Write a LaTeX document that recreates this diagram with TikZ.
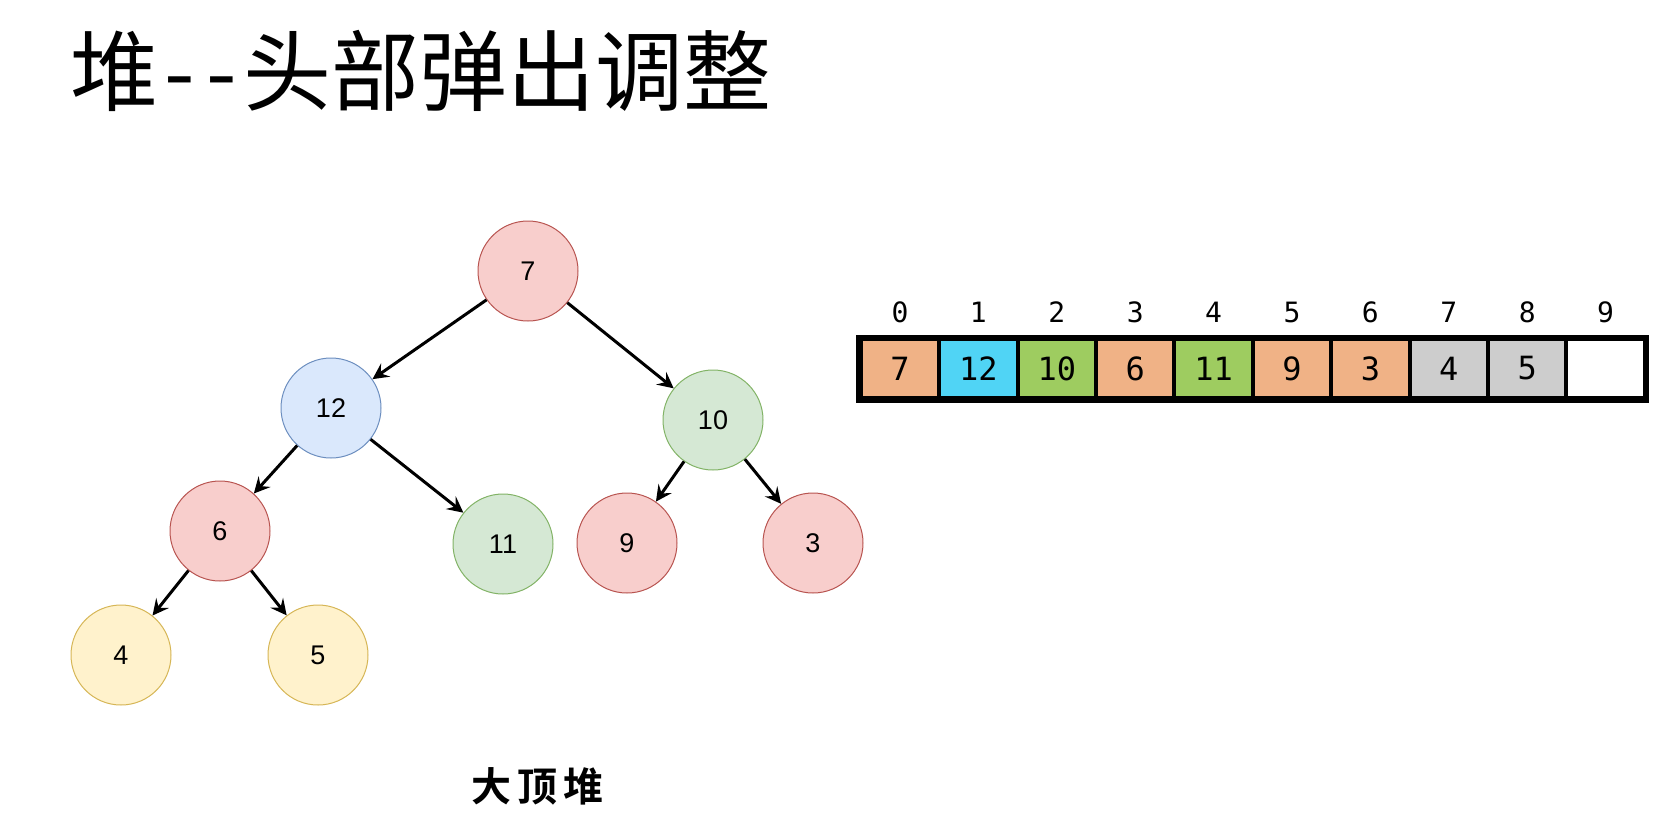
\documentclass[tikz,border=0pt]{standalone}
\usepackage{fontspec}
\setmainfont{Liberation Sans}
\newfontfamily\cjk{Noto Sans CJK SC}
\newfontfamily\cjkb{Noto Sans CJK SC Bold}
\newfontfamily\arrmono{DejaVu Sans Mono}
\usetikzlibrary{arrows.meta}

\definecolor{hredfill}{HTML}{F8CECC}
\definecolor{hredline}{HTML}{B85450}
\definecolor{hbluefill}{HTML}{DAE8FC}
\definecolor{hblueline}{HTML}{6C8EBF}
\definecolor{hgreenfill}{HTML}{D5E8D4}
\definecolor{hgreenline}{HTML}{82B366}
\definecolor{hyellowfill}{HTML}{FFF2CC}
\definecolor{hyellowline}{HTML}{D6B656}
\definecolor{corange}{RGB}{240,178,134}
\definecolor{ccyan}{RGB}{80,212,245}
\definecolor{cgreen}{RGB}{158,204,96}
\definecolor{cgray}{RGB}{205,205,205}

\begin{document}
\begin{tikzpicture}[x=0.5pt, y=-0.5pt, >={Stealth[length=8pt, width=8pt, inset=3pt]},
		hnode/.style={circle, minimum size=50pt, inner sep=0pt, line width=0.5pt, font=\fontsize{13.5}{15}\selectfont},
		hred/.style={hnode, draw=hredline, fill=hredfill},
		hblue/.style={hnode, draw=hblueline, fill=hbluefill},
		hgreen/.style={hnode, draw=hgreenline, fill=hgreenfill},
		hyellow/.style={hnode, draw=hyellowline, fill=hyellowfill},
		edge/.style={->, line width=1.5pt},
		cell/.style={draw, line width=2pt, minimum width=39.2pt, minimum height=29.5pt, inner sep=0pt, font=\arrmono\fontsize{16}{18}\selectfont},
		idx/.style={inner sep=0pt, font=\arrmono\fontsize{14}{16}\selectfont}]
		\useasboundingbox (0,0) rectangle (1671,820);
		% title
		\node[anchor=base west, inner sep=0pt, font=\cjk\fontsize{44}{48}\selectfont] (title) at (70,104) {堆\hspace{3pt}-\hspace{6pt}-\hspace{3pt}头部弹出调整};
		% heap
		\node[hred] (n7) at (528,271) {7};
		\node[hblue] (n12) at (331,408) {12};
		\node[hgreen] (n10) at (713,420) {10};
		\node[hred] (n6) at (220,531) {6};
		\node[hgreen] (n11) at (503,544) {11};
		\node[hred] (n9) at (627,543) {9};
		\node[hred] (n3) at (813,543) {3};
		\node[hyellow] (n4) at (121,655) {4};
		\node[hyellow] (n5) at (318,655) {5};
		\foreach \p/\c in {n7/n12, n7/n10, n12/n6, n12/n11, n10/n9, n10/n3, n6/n4, n6/n5}
			\draw[edge] (\p) -- (\c);
		\node[anchor=base, inner sep=0pt, font=\cjkb\fontsize{20}{22}\selectfont] (cap) at (537,801) {大\hspace{3pt}顶\hspace{3pt}堆};
		% array
		\foreach \i/\v/\col in {0/7/corange, 1/12/ccyan, 2/10/cgreen, 3/6/corange, 4/11/cgreen, 5/9/corange, 6/3/corange, 7/4/cgray, 8/5/cgray, 9//white} {
			\node[cell, fill=\col] (c\i) at ({900+78.4*\i},368.5) {\v};
			\node[idx] (i\i) at ({900+78.4*\i},312) {\i};
		}
		\draw[line width=2.5pt] (c0.north west) rectangle (c9.south east);
	\end{tikzpicture}
\end{document}
